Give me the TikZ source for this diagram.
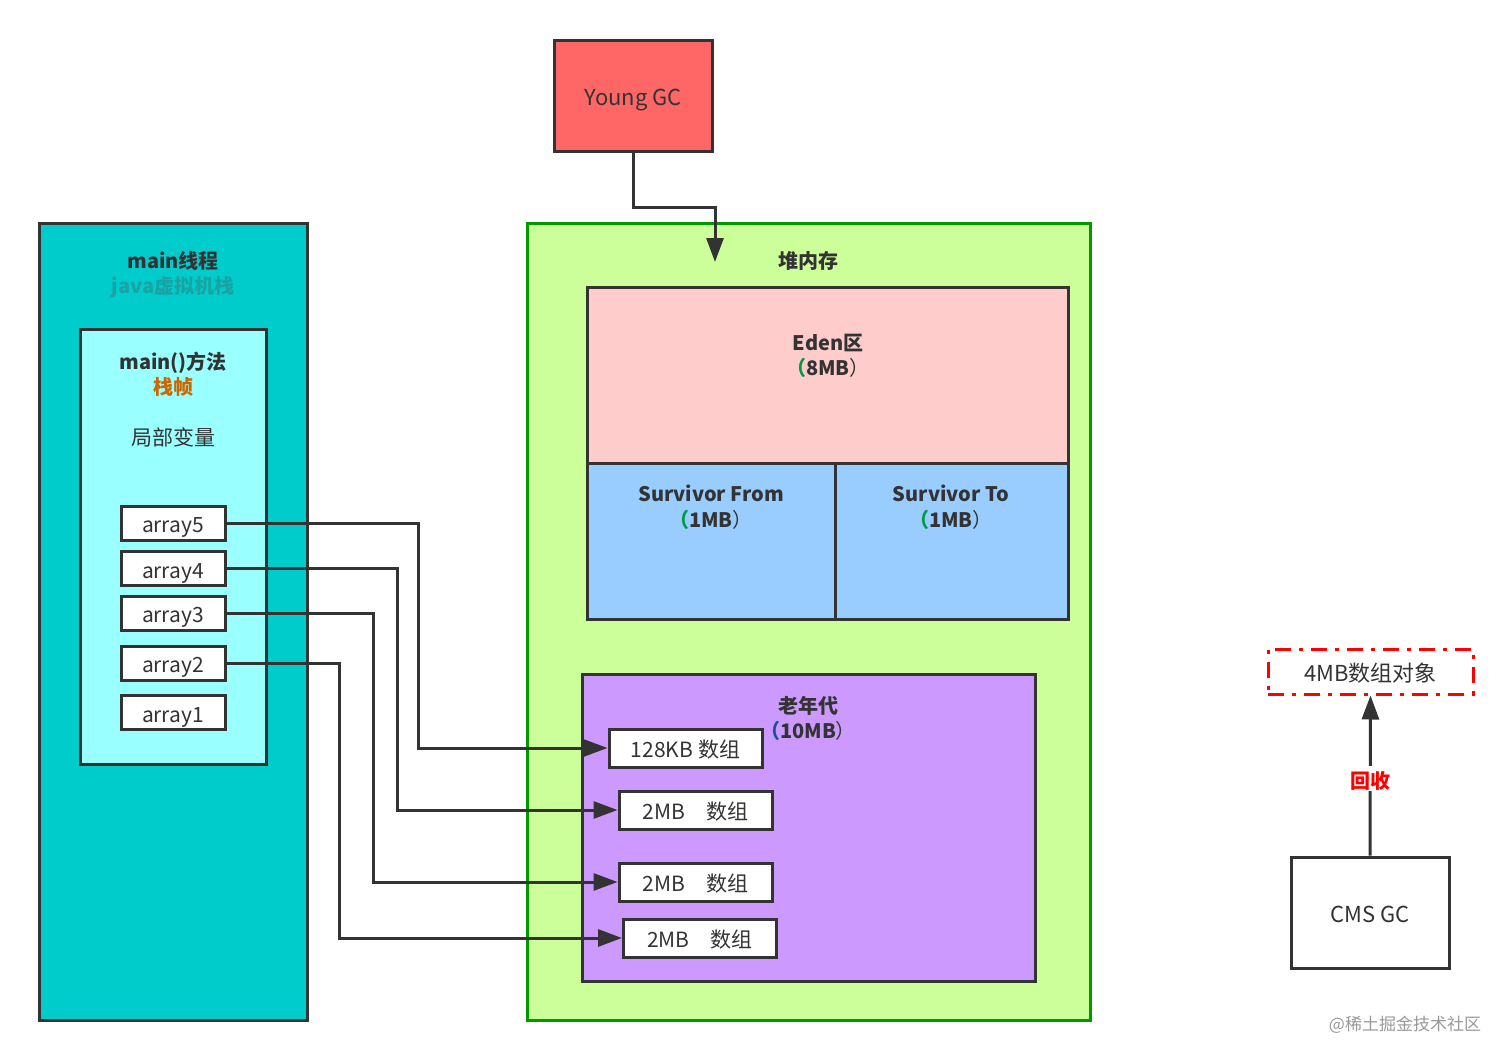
\documentclass[tikz,border=0pt]{standalone}
\usepackage{fontspec}
\setmainfont{Noto Sans CJK SC}
\usetikzlibrary{arrows.meta}
\definecolor{ink}{HTML}{333333}
\definecolor{ygred}{HTML}{FF6666}
\definecolor{teal1}{HTML}{00CCCC}
\definecolor{teal2}{HTML}{99FFFF}
\definecolor{tealtxt}{HTML}{19A3A3}
\definecolor{heapg}{HTML}{CCFF99}
\definecolor{heapb}{HTML}{009900}
\definecolor{edenc}{HTML}{FFCCCC}
\definecolor{survc}{HTML}{99CCFF}
\definecolor{oldc}{HTML}{CC99FF}
\definecolor{orangetxt}{HTML}{CC6600}
\definecolor{greentxt}{HTML}{00994C}
\definecolor{bluetxt}{HTML}{1A4D99}
\definecolor{redd}{HTML}{FF0000}
\definecolor{wm}{HTML}{999999}
\begin{document}
\begin{tikzpicture}[x=0.5pt,y=-0.5pt,
  font=\fontsize{10.5}{12.5}\selectfont,
  tx/.style={text height=1em,text depth=0.04em},
  box/.style={draw=ink,line width=1.5pt,inner sep=0pt,text=ink,tx},
  arr/.style={box,minimum width=52pt,minimum height=17pt,fill=white},
  kb/.style={box,minimum width=76.5pt,minimum height=19pt,fill=white},
  lbl/.style={text=ink,inner sep=0pt,align=center,tx},
  bl/.style={lbl,font=\fontsize{10}{12.5}\selectfont\bfseries},
  conn/.style={draw=ink,line width=1.5pt,-{Triangle[length=12pt,width=8.5pt]}}]
\useasboundingbox (0,0) rectangle (1512,1060);
\fill[white] (0,0) rectangle (1512,1060);
% Young GC
\node[box,fill=ygred,minimum width=79pt,minimum height=55.5pt,font=\fontsize{11}{13}\selectfont] (yg) at (633,95.5) {Young GC};
% main thread
\node[box,fill=teal1,minimum width=134pt,minimum height=398.5pt] (mt) at (173,621.5) {};
\node[bl] (mtt) at (173,259) {main线程};
\node[bl,text=tealtxt] (mtj) at (173,284) {java虚拟机栈};
\node[box,fill=teal2,minimum width=93pt,minimum height=217.5pt] (sf) at (173,546.5) {};
\node[bl] (sft) at (173,360) {main()方法};
\node[bl,text=orangetxt] (sfz) at (173,385) {栈帧};
\node[lbl] (lv) at (173,436) {局部变量};
\node[arr] (a5) at (173,523) {array5};
\node[arr] (a4) at (173,568.5) {array4};
\node[arr] (a3) at (173,613) {array3};
\node[arr] (a2) at (173,663) {array2};
\node[arr] (a1) at (173,712.5) {array1};
% heap
\node[box,draw=heapb,fill=heapg,minimum width=281.5pt,minimum height=398.5pt] (heap) at (808.5,621.5) {};
\node[bl] (heapt) at (808,259) {堆内存};
\node[box,fill=edenc,minimum width=240.5pt,minimum height=88pt] (eden) at (827.5,375) {};
\node[bl] (edent) at (828,341) {Eden区};
\node[bl] (edens) at (828,366) {\textcolor{greentxt}{（}8MB\mdseries）};
\node[box,fill=survc,minimum width=124pt,minimum height=78pt] (sfr) at (711,541) {};
\node[box,fill=survc,minimum width=116.5pt,minimum height=78pt] (sto) at (951.5,541) {};
\node[bl] (sfrt) at (711,492) {Survivor From};
\node[bl] (sfrs) at (711,518) {\textcolor{greentxt}{（}1MB\mdseries）};
\node[bl] (stot) at (951,492) {Survivor To};
\node[bl] (stos) at (951,518) {\textcolor{greentxt}{（}1MB\mdseries）};
\node[box,fill=oldc,minimum width=226.5pt,minimum height=153.5pt] (old) at (808.5,827.5) {};
\node[bl] (oldt) at (808,704) {老年代};
\node[bl] (olds) at (808,729) {\textcolor{bluetxt}{（}10MB\mdseries）};
\node[kb] (k128) at (685.5,748) {128KB 数组};
\node[kb] (m2a) at (695.5,810) {2MB\quad 数组};
\node[kb] (m2b) at (695.5,882) {2MB\quad 数组};
\node[kb] (m2c) at (700,938) {2MB\quad 数组};
% young gc arrow
\coordinate (ygend) at (715,262);
\draw[conn] (yg.south) -- ++(0,55) -| (ygend);
% array connectors
\draw[conn] (a5.east) -- ++(192,0) |- (k128.west);
\draw[conn] (a4.east) -- ++(171,0) |- (m2a.west);
\draw[conn] (a3.east) -- ++(147,0) |- (m2b.west);
\draw[conn] (a2.east) -- ++(113,0) |- (m2c.west);
% CMS
\node[box,draw=redd,dash pattern=on 8pt off 4pt on 2pt off 4pt,fill=white,minimum width=102.5pt,minimum height=22.5pt,font=\fontsize{11}{13}\selectfont] (obj) at (1370.5,671.5) {4MB数组对象};
\node[box,fill=white,minimum width=79pt,minimum height=55.5pt,font=\fontsize{11}{13}\selectfont] (cms) at (1370,912.5) {CMS GC};
\draw[conn] (cms.north) -- (obj.south) node[pos=0.48,fill=white,text=redd,font=\fontsize{10}{12.5}\selectfont\bfseries,inner sep=1pt,tx] (hs) {回收};
\node[lbl,text=wm,font=\fontsize{8.5}{10}\selectfont] (wmk) at (1405,1021) {@稀土掘金技术社区};
\end{tikzpicture}
\end{document}
